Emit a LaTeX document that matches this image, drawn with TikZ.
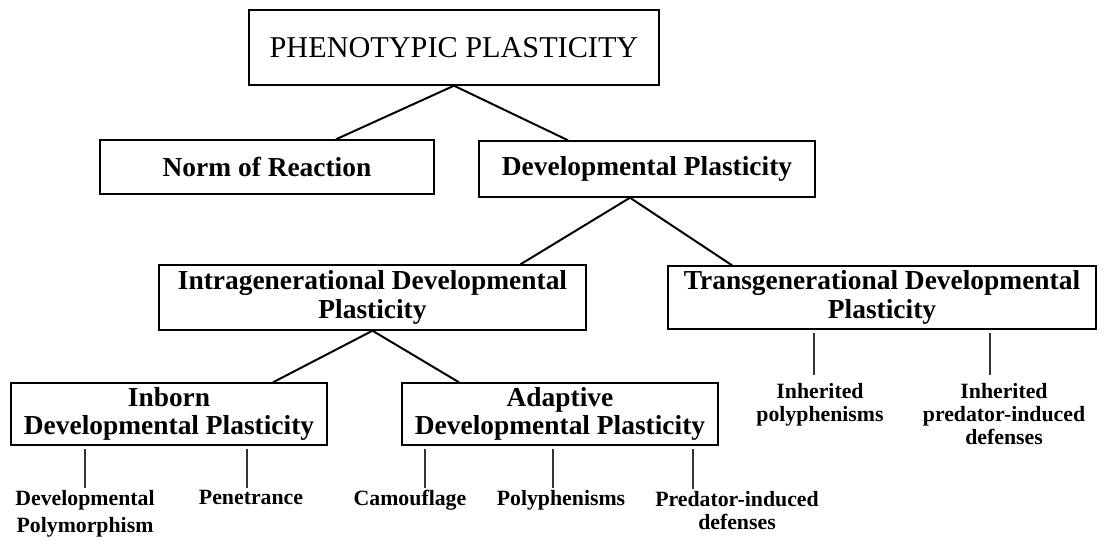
\documentclass[tikz,border=0pt]{standalone}
\usepackage{fontspec}
\setmainfont{Liberation Serif}
\tikzset{
	box/.style={draw, line width=1pt, inner sep=0pt, align=center, font=\fontsize{19.5}{20}\selectfont\bfseries},
	leaf/.style={inner sep=1.5pt, anchor=north, align=center, font=\fontsize{15.5}{16.5}\selectfont\bfseries},
	branch/.style={line width=1.4pt},
	stem/.style={line width=0.8pt, black!80, shorten <=2pt}
}
\begin{document}
\begin{tikzpicture}[x=0.025cm,y=-0.025cm]
	\useasboundingbox (0,0) rectangle (1108,540);
	\node[box, minimum width=10.25cm, minimum height=1.875cm, font=\fontsize{21.5}{24}\selectfont] (phen) at (454,47.5) {PHENOTYPIC PLASTICITY};
	\node[box, minimum width=8.35cm, minimum height=1.35cm] (norm) at (267,167) {Norm of Reaction};
	\node[box, minimum width=8.4cm, minimum height=1.4cm] (devel) at (647,169) {Developmental Plasticity};
	\node[box, minimum width=10.675cm, minimum height=1.625cm] (intra) at (372.5,297.5) {Intragenerational Developmental\\Plasticity};
	\node[box, minimum width=10.7cm, minimum height=1.575cm] (trans) at (882,297.5) {Transgenerational Developmental\\Plasticity};
	\node[box, minimum width=7.9cm, minimum height=1.55cm] (inborn) at (169,414) {Inborn\\Developmental Plasticity};
	\node[box, minimum width=7.9cm, minimum height=1.55cm] (adapt) at (560,414) {Adaptive\\Developmental Plasticity};
	\node[leaf, font=\fontsize{15.5}{19.2}\selectfont\bfseries] (polym) at (85,488) {Developmental\\Polymorphism};
	\node[leaf] (penet) at (251,488) {Penetrance};
	\node[leaf] (camo) at (410,488) {Camouflage};
	\node[leaf] (polyph) at (561,488) {Polyphenisms};
	\node[leaf] (pred) at (737,489) {Predator-induced\\defenses};
	\node[leaf] (inhpoly) at (820,381) {Inherited\\polyphenisms};
	\node[leaf] (inhpred) at (1004,381) {Inherited\\predator-induced\\defenses};
	\draw[branch] (phen.south) -- ([xshift=1.725cm]norm.north);
	\draw[branch] (phen.south) -- ([xshift=-1.975cm]devel.north);
	\draw[branch] ([xshift=-0.425cm]devel.south) -- ([xshift=3.7cm]intra.north);
	\draw[branch] ([xshift=-0.425cm]devel.south) -- ([xshift=-3.75cm]trans.north);
	\draw[branch] (intra.south) -- ([xshift=2.6cm]inborn.north);
	\draw[branch] (intra.south) -- ([xshift=-2.525cm]adapt.north);
	\draw[stem] (polym.north |- inborn.south) -- (polym.north);
	\draw[stem] ([xshift=-0.1cm]penet.north |- inborn.south) -- ([xshift=-0.1cm]penet.north);
	\draw[stem] ([xshift=0.375cm]camo.north |- adapt.south) -- ([xshift=0.375cm]camo.north);
	\draw[stem] ([xshift=-0.2cm]polyph.north |- adapt.south) -- ([xshift=-0.2cm]polyph.north);
	\draw[stem] ([xshift=-1.1cm]pred.north |- adapt.south) -- ([xshift=-1.1cm]pred.north);
	\draw[stem, shorten >=4pt] ([xshift=-0.15cm]inhpoly.north |- trans.south) -- ([xshift=-0.15cm]inhpoly.north);
	\draw[stem, shorten >=4pt] ([xshift=-0.35cm]inhpred.north |- trans.south) -- ([xshift=-0.35cm]inhpred.north);
\end{tikzpicture}
\end{document}
